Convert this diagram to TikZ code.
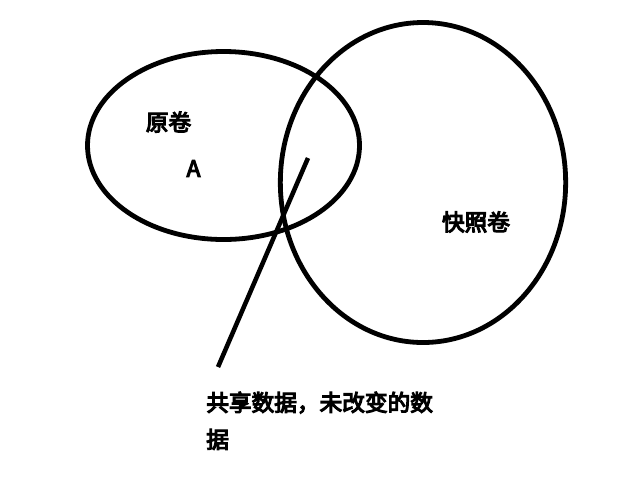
\documentclass[tikz,border=0pt]{standalone}
\usepackage{fontspec}
\setmainfont{Noto Sans CJK SC}[FakeBold=5]
\usetikzlibrary{shapes.geometric}

\begin{document}
\begin{tikzpicture}[x=0.75pt, y=-0.75pt]
        % ================= 样式定义 =================
        \tikzset{
            % 卷 (椭圆)
            volume/.style={ellipse, draw=black, line width=3.6pt, inner sep=0pt},
            % 粗体标签
            tag/.style={font=\fontsize{17pt}{27.75pt}\selectfont, inner sep=0pt},
            % 引线
            lead/.style={line width=3.4pt, black}
        }
        \useasboundingbox (0,0) rectangle (624,487);

        % ================= 两个卷 =================
        % 原卷
        \node[volume, minimum width=204pt, minimum height=141pt] (orig) at (223.5,145.5) {};
        % 快照卷
        \node[volume, minimum width=214pt, minimum height=240pt] (snap) at (423,182.5) {};

        % ================= 标签 =================
        \node[tag] (origlbl) at (168.5,122) {原卷};
        \node[tag] (blockA) at (193.5,168.5) {A};
        \node[tag] (snaplbl) at (476,222) {快照卷};

        % ================= 共享数据引线 =================
        \coordinate (tip) at (308,158);
        \coordinate (tail) at (218,367);
        \draw[lead] (tip) -- (tail);
        \node[tag, align=left, anchor=base west] (shared) at (206,448) {共享数据，未改变的数\\据};

    \end{tikzpicture}
\end{document}
